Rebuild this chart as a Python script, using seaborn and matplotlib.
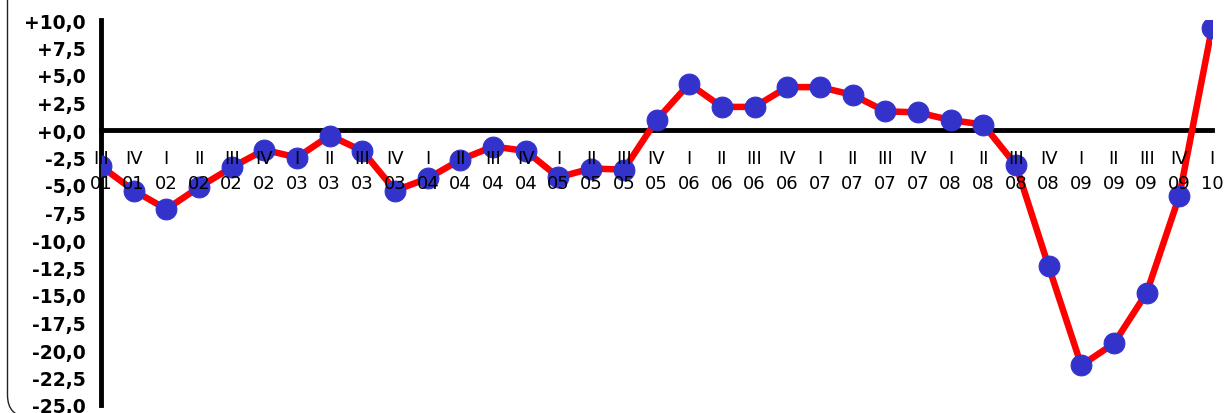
import numpy as np
import matplotlib
matplotlib.use("Agg")
import matplotlib.pyplot as plt
import matplotlib.patches as mpatches
import matplotlib.transforms as mtrans
from matplotlib.path import Path
import seaborn as sns
import pandas as pd

# quarters and years (III 2001 .. I 2010)
quarters = ["III", "IV",
            "I", "II", "III", "IV",
            "I", "II", "III", "IV",
            "I", "II", "III", "IV",
            "I", "II", "III", "IV",
            "I", "II", "III", "IV",
            "I", "II", "III", "IV",
            "I", "II", "III", "IV",
            "I", "II", "III", "IV",
            "I"]
years = ["01", "01",
         "02", "02", "02", "02",
         "03", "03", "03", "03",
         "04", "04", "04", "04",
         "05", "05", "05", "05",
         "06", "06", "06", "06",
         "07", "07", "07", "07",
         "08", "08", "08", "08",
         "09", "09", "09", "09",
         "10"]
values = [-3.3, -5.5,
          -7.2, -5.2, -3.4, -1.8,
          -2.5, -0.5, -1.9, -5.5,
          -4.4, -2.7, -1.5, -1.9,
          -4.3, -3.5, -3.6, 0.9,
          4.2, 2.1, 2.1, 3.9,
          3.9, 3.2, 1.7, 1.6,
          0.9, 0.5, -3.2, -12.4,
          -21.4, -19.4, -14.8, -6.0,
          9.3]

yticks = np.arange(-25, 10.01, 2.5)
ytick_labels = [("+" if v >= 0 else "-") + f"{abs(v):.1f}".replace(".", ",") for v in yticks]

df = pd.DataFrame({"pos": range(len(values)), "value": values})

sns.set_style("white")
plt.rcParams["text.color"] = "black"
plt.rcParams["xtick.color"] = "black"
plt.rcParams["ytick.color"] = "black"
fig = plt.figure(figsize=(12.24, 4.14), dpi=100)
ax = fig.add_axes([101 / 1224, 1 - 406 / 414, (1212 - 101) / 1224, (406 - 21) / 414])

sns.lineplot(data=df, x="pos", y="value", ax=ax, color="#ff0000", linewidth=4.7,
             marker="o", markersize=15, markerfacecolor="#3333cc",
             markeredgecolor="#3333cc", zorder=2)

ax.set_xlim(0, len(values) - 1)
ax.set_ylim(-25, 10)
ax.set_xlabel("")
ax.set_ylabel("")

for s in ["top", "right"]:
    ax.spines[s].set_visible(False)
ax.spines["bottom"].set_position(("data", 0))
for s in ["left", "bottom"]:
    ax.spines[s].set_linewidth(3.5)
    ax.spines[s].set_color("black")
    ax.spines[s].set_zorder(1)

ax.set_xticks(range(len(values)))
ax.set_xticklabels([f"{q}\n{y}" for q, y in zip(quarters, years)],
                   fontsize=13, linespacing=1.45, color="black")
ax.tick_params(axis="x", direction="out", length=5, width=3.5, pad=9, colors="black")
ax.set_yticks(yticks)
ax.set_yticklabels(ytick_labels, fontsize=13.5, fontweight="bold", color="black")
ax.tick_params(axis="y", direction="out", length=6, width=3.5, pad=5, colors="black")
ax.xaxis.set_zorder(3)
ax.yaxis.set_zorder(3)

# chart frame: left edge with a rounded bottom-left corner (pixel coords)
frame_path = Path([(7.5, 430), (7.5, 18), (7.5, -4), (29.5, -4)],
                  [Path.MOVETO, Path.LINETO, Path.CURVE3, Path.CURVE3])
frame = mpatches.PathPatch(frame_path, transform=mtrans.IdentityTransform(),
                           facecolor="none", edgecolor="#222222", linewidth=1)
fig.patches.append(frame)

fig.savefig("out.png", dpi=100)
